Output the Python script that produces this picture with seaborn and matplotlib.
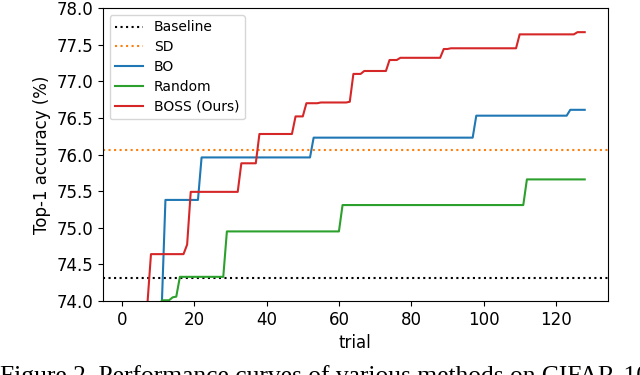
import numpy as np
import pandas as pd
import matplotlib
matplotlib.use("Agg")
import matplotlib.pyplot as plt
import seaborn as sns

# ---------------- data ----------------
trials = list(range(1, 129))

baseline_acc = 74.32
sd_acc = 76.06

boss_acc = [
    72.9, 72.9, 73.3, 73.3, 73.6, 73.6, 73.95, 74.64, 74.64, 74.64,
    74.64, 74.64, 74.64, 74.64, 74.64, 74.64, 74.64, 74.77, 75.49, 75.49,
    75.49, 75.49, 75.49, 75.49, 75.49, 75.49, 75.49, 75.49, 75.49, 75.49,
    75.49, 75.49, 75.88, 75.88, 75.88, 75.88, 75.88, 76.28, 76.28, 76.28,
    76.28, 76.28, 76.28, 76.28, 76.28, 76.28, 76.28, 76.52, 76.52, 76.52,
    76.70, 76.70, 76.70, 76.70, 76.71, 76.71, 76.71, 76.71, 76.71, 76.71,
    76.71, 76.71, 76.72, 77.10, 77.10, 77.10, 77.14, 77.14, 77.14, 77.14,
    77.14, 77.14, 77.14, 77.29, 77.29, 77.29, 77.32, 77.32, 77.32, 77.32,
    77.32, 77.32, 77.32, 77.32, 77.32, 77.32, 77.32, 77.32, 77.44, 77.44,
    77.45, 77.45, 77.45, 77.45, 77.45, 77.45, 77.45, 77.45, 77.45, 77.45,
    77.45, 77.45, 77.45, 77.45, 77.45, 77.45, 77.45, 77.45, 77.45, 77.64,
    77.64, 77.64, 77.64, 77.64, 77.64, 77.64, 77.64, 77.64, 77.64, 77.64,
    77.64, 77.64, 77.64, 77.64, 77.64, 77.67, 77.67, 77.67,
]

bo_acc = [
    72.3, 72.3, 72.3, 72.8, 72.8, 72.8, 73.2, 73.2, 73.2, 73.2,
    73.95, 75.38, 75.38, 75.38, 75.38, 75.38, 75.38, 75.38, 75.38, 75.38,
    75.38, 75.96, 75.96, 75.96, 75.96, 75.96, 75.96, 75.96, 75.96, 75.96,
    75.96, 75.96, 75.96, 75.96, 75.96, 75.96, 75.96, 75.96, 75.96, 75.96,
    75.96, 75.96, 75.96, 75.96, 75.96, 75.96, 75.96, 75.96, 75.96, 75.96,
    75.96, 75.96, 76.23, 76.23, 76.23, 76.23, 76.23, 76.23, 76.23, 76.23,
    76.23, 76.23, 76.23, 76.23, 76.23, 76.23, 76.23, 76.23, 76.23, 76.23,
    76.23, 76.23, 76.23, 76.23, 76.23, 76.23, 76.23, 76.23, 76.23, 76.23,
    76.23, 76.23, 76.23, 76.23, 76.23, 76.23, 76.23, 76.23, 76.23, 76.23,
    76.23, 76.23, 76.23, 76.23, 76.23, 76.23, 76.23, 76.53, 76.53, 76.53,
    76.53, 76.53, 76.53, 76.53, 76.53, 76.53, 76.53, 76.53, 76.53, 76.53,
    76.53, 76.53, 76.53, 76.53, 76.53, 76.53, 76.53, 76.53, 76.53, 76.53,
    76.53, 76.53, 76.53, 76.61, 76.61, 76.61, 76.61, 76.61,
]

random_acc = [
    72.6, 72.6, 72.6, 73.1, 73.1, 73.1, 73.1, 73.4, 73.4, 73.6,
    74.01, 74.01, 74.01, 74.05, 74.06, 74.33, 74.33, 74.33, 74.33, 74.33,
    74.33, 74.33, 74.33, 74.33, 74.33, 74.33, 74.33, 74.33, 74.95, 74.95,
    74.95, 74.95, 74.95, 74.95, 74.95, 74.95, 74.95, 74.95, 74.95, 74.95,
    74.95, 74.95, 74.95, 74.95, 74.95, 74.95, 74.95, 74.95, 74.95, 74.95,
    74.95, 74.95, 74.95, 74.95, 74.95, 74.95, 74.95, 74.95, 74.95, 74.95,
    75.31, 75.31, 75.31, 75.31, 75.31, 75.31, 75.31, 75.31, 75.31, 75.31,
    75.31, 75.31, 75.31, 75.31, 75.31, 75.31, 75.31, 75.31, 75.31, 75.31,
    75.31, 75.31, 75.31, 75.31, 75.31, 75.31, 75.31, 75.31, 75.31, 75.31,
    75.31, 75.31, 75.31, 75.31, 75.31, 75.31, 75.31, 75.31, 75.31, 75.31,
    75.31, 75.31, 75.31, 75.31, 75.31, 75.31, 75.31, 75.31, 75.31, 75.31,
    75.31, 75.66, 75.66, 75.66, 75.66, 75.66, 75.66, 75.66, 75.66, 75.66,
    75.66, 75.66, 75.66, 75.66, 75.66, 75.66, 75.66, 75.66,
]

methods = ["BO", "Random", "BOSS (Ours)"]
colors = {"BO": "tab:blue", "Random": "tab:green", "BOSS (Ours)": "tab:red"}
caption = "Figure 2. Performance curves of various methods on CIFAR-100."

# ---------------- plot ----------------
plt.rcParams["font.family"] = ["DejaVu Sans"]
plt.rcParams["font.size"] = 12

fig = plt.figure(figsize=(6.4, 3.75), dpi=100)
ax = fig.add_axes([0.1605, 0.1973, 0.789, 0.7814])

ax.axhline(baseline_acc, color="black", linestyle=":", linewidth=1.5, label="Baseline")
ax.axhline(sd_acc, color="tab:orange", linestyle=":", linewidth=1.5, label="SD")

series = {"BO": bo_acc, "Random": random_acc, "BOSS (Ours)": boss_acc}
for m in methods:
    df = pd.DataFrame({"trial": trials, "acc": series[m]})
    sns.lineplot(data=df, x="trial", y="acc", color=colors[m], linewidth=1.5,
                 label=m, ax=ax)

ax.set_ylim(74.0, 78.0)
ax.set_yticks(np.arange(74.0, 78.01, 0.5))
ax.set_xticks([0, 20, 40, 60, 80, 100, 120])
ax.set_xlabel("trial", fontsize=12)
ax.set_ylabel("Top-1 accuracy (%)", fontsize=12)
ax.tick_params(labelsize=12)
ax.legend(loc="upper left", fontsize=10, labelspacing=0.42)

fig.text(0.0, -0.0213, caption, fontsize=18.4, family=["Liberation Serif"],
         ha="left", va="baseline")

fig.savefig("out.png", dpi=100)
